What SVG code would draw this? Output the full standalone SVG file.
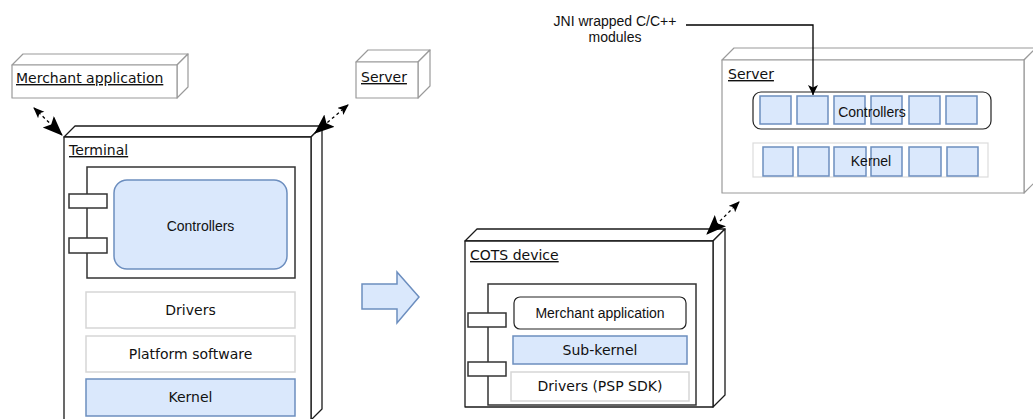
<svg xmlns="http://www.w3.org/2000/svg" width="1033" height="419" viewBox="0 0 1033 419">
  <style>
    .cube { fill: #ffffff; stroke-linejoin: round; }
    .dark { stroke: #1a1a1a; stroke-width: 1.3; }
    .grey { stroke: #9a9a9a; stroke-width: 1.2; }
    .lbl { font-family: "DejaVu Sans", Verdana, sans-serif; font-size: 14px; fill: #111111; }
    .ul { text-decoration: underline; }
    .sans { font-family: "Liberation Sans", Arial, Helvetica, sans-serif; font-size: 14px; fill: #111111; }
    .mid { text-anchor: middle; }
    .comp { fill: #ffffff; stroke: #333333; stroke-width: 1.5; }
    .port { fill: #ffffff; stroke: #333333; stroke-width: 1.5; }
    .blue { fill: #dae8fc; stroke: #6c8ebf; stroke-width: 1.5; }
    .plain { fill: #ffffff; stroke: #d6d6d6; stroke-width: 1.5; }
    .link { fill: none; stroke: #000000; stroke-width: 1.3; stroke-dasharray: 3 3; }
    .wire { fill: none; stroke: #000000; stroke-width: 1.3; }
  </style>
  <defs>
    <marker id="bigHead" markerUnits="userSpaceOnUse" markerWidth="22" markerHeight="18" refX="19" refY="8" orient="auto">
      <path d="M0,0 L20,8 L0,16 L4,8 z" fill="#000"/>
    </marker>
    <marker id="smallHead" markerUnits="userSpaceOnUse" markerWidth="12" markerHeight="10" refX="10" refY="4.5" orient="auto-start-reverse">
      <path d="M0,0 L11,4.5 L0,9 L2.5,4.5 z" fill="#000"/>
    </marker>
    <marker id="wireHead" markerUnits="userSpaceOnUse" markerWidth="12" markerHeight="12" refX="10" refY="5" orient="auto">
      <path d="M0,0 L10,5 L0,10 L2.5,5 z" fill="#000"/>
    </marker>
  </defs>

  <!-- Merchant application node -->
  <g id="merchant-app">
    <path class="cube grey" d="M12,65 L23,54 L188,54 L177,65 Z"/>
    <path class="cube grey" d="M177,65 L188,54 L188,87 L177,98 Z"/>
    <rect class="cube grey" x="12" y="65" width="165" height="33"/>
    <text class="lbl ul" x="16" y="83">Merchant application</text>
  </g>

  <!-- Small server node -->
  <g id="server-small">
    <path class="cube grey" d="M356,62 L368,50 L430,50 L418,62 Z"/>
    <path class="cube grey" d="M418,62 L430,50 L430,86 L418,98 Z"/>
    <rect class="cube grey" x="356" y="62" width="62" height="36"/>
    <text class="lbl ul" x="361" y="82">Server</text>
  </g>

  <!-- Terminal node -->
  <g id="terminal">
    <path class="cube dark" d="M64,137 L75,126 L322,126 L311,137 Z"/>
    <path class="cube dark" d="M311,137 L322,126 L322,409 L311,420 Z"/>
    <rect class="cube dark" x="64" y="137" width="247" height="283"/>
    <text class="lbl ul" x="69" y="155">Terminal</text>
    <g id="terminal-component">
      <rect class="comp" x="87" y="167" width="208" height="111"/>
      <rect class="port" x="69" y="194" width="38" height="14"/>
      <rect class="port" x="69" y="238" width="38" height="15"/>
      <rect class="blue" x="114" y="180" width="173" height="89" rx="13"/>
      <text class="sans mid" x="200.5" y="231">Controllers</text>
    </g>
    <g id="terminal-drivers">
      <rect class="plain" x="86" y="292" width="209" height="36"/>
      <text class="lbl mid" x="190.5" y="315">Drivers</text>
    </g>
    <g id="terminal-platform">
      <rect class="plain" x="86" y="336" width="209" height="36"/>
      <text class="lbl mid" x="190.5" y="359">Platform software</text>
    </g>
    <g id="terminal-kernel">
      <rect class="blue" x="86" y="379" width="209" height="37"/>
      <text class="lbl mid" x="190.5" y="402">Kernel</text>
    </g>
  </g>

  <!-- Transition arrow -->
  <g id="transition">
    <polygon class="blue" stroke-width="2" points="362,284 397,284 397,272 419,297 397,323 397,309 362,309"/>
  </g>

  <!-- COTS device node -->
  <g id="cots-device">
    <path class="cube dark" d="M465,241 L477,229 L725,229 L713,241 Z"/>
    <path class="cube dark" d="M713,241 L725,229 L725,395 L713,407 Z"/>
    <rect class="cube dark" x="465" y="241" width="248" height="166"/>
    <text class="lbl ul" x="470" y="260">COTS device</text>
    <g id="cots-component">
      <rect class="comp" x="488" y="284" width="208" height="121"/>
      <rect class="port" x="468" y="313" width="38" height="14"/>
      <rect class="port" x="468" y="362" width="38" height="14"/>
    </g>
    <g id="cots-merchant-app">
      <rect fill="#ffffff" stroke="#222222" stroke-width="1.2" x="514" y="297" width="172" height="32" rx="6"/>
      <text class="sans mid" x="600" y="318">Merchant application</text>
    </g>
    <g id="cots-subkernel">
      <rect class="blue" x="513" y="336" width="174" height="28"/>
      <text class="lbl mid" x="600" y="355">Sub-kernel</text>
    </g>
    <g id="cots-drivers">
      <rect class="plain" x="511" y="372" width="178" height="29"/>
      <text class="lbl mid" x="600" y="391">Drivers (PSP SDK)</text>
    </g>
  </g>

  <!-- Cloud server node -->
  <g id="server-cloud">
    <path class="cube grey" d="M722,60 L734,48 L1036,48 L1024,60 Z"/>
    <path class="cube grey" d="M1024,60 L1036,48 L1036,181 L1024,193 Z"/>
    <rect class="cube grey" x="722" y="60" width="302" height="133"/>
    <text class="lbl ul" x="728" y="79">Server</text>
    <g id="server-controllers">
      <rect fill="#ffffff" stroke="#222222" stroke-width="1.2" x="753" y="92" width="238" height="37" rx="8"/>
      <rect class="blue" x="760" y="96" width="31" height="28"/>
      <rect class="blue" x="797" y="96" width="31" height="28"/>
      <rect class="blue" x="834" y="96" width="31" height="28"/>
      <rect class="blue" x="871" y="96" width="31" height="28"/>
      <rect class="blue" x="909" y="96" width="31" height="28"/>
      <rect class="blue" x="946" y="96" width="31" height="28"/>
      <text class="sans mid" x="872" y="117">Controllers</text>
    </g>
    <g id="server-kernel">
      <rect fill="#ffffff" stroke="#dcdcdc" stroke-width="1.2" x="753" y="143" width="235" height="34"/>
      <rect class="blue" x="763" y="147" width="30" height="29"/>
      <rect class="blue" x="798" y="147" width="31" height="29"/>
      <rect class="blue" x="834" y="147" width="32" height="29"/>
      <rect class="blue" x="871" y="147" width="31" height="29"/>
      <rect class="blue" x="909" y="147" width="32" height="29"/>
      <rect class="blue" x="947" y="147" width="31" height="29"/>
      <text class="sans mid" x="871" y="166">Kernel</text>
    </g>
  </g>

  <!-- Annotation -->
  <g id="jni-note">
    <text class="sans mid" x="615" y="26">JNI wrapped C/C++</text>
    <text class="sans mid" x="615" y="42">modules</text>
  </g>

  <!-- Connectors -->
  <g id="connectors">
    <path class="link" d="M34,108 L62,135" marker-start="url(#smallHead)" marker-end="url(#bigHead)"/>
    <path class="link" d="M348,105 L315,133" marker-start="url(#smallHead)" marker-end="url(#bigHead)"/>
    <path class="link" d="M739,202 L707,234" marker-start="url(#smallHead)" marker-end="url(#bigHead)"/>
    <path class="wire" d="M686,25 L813,25 L813,95" marker-end="url(#wireHead)"/>
  </g>
</svg>
